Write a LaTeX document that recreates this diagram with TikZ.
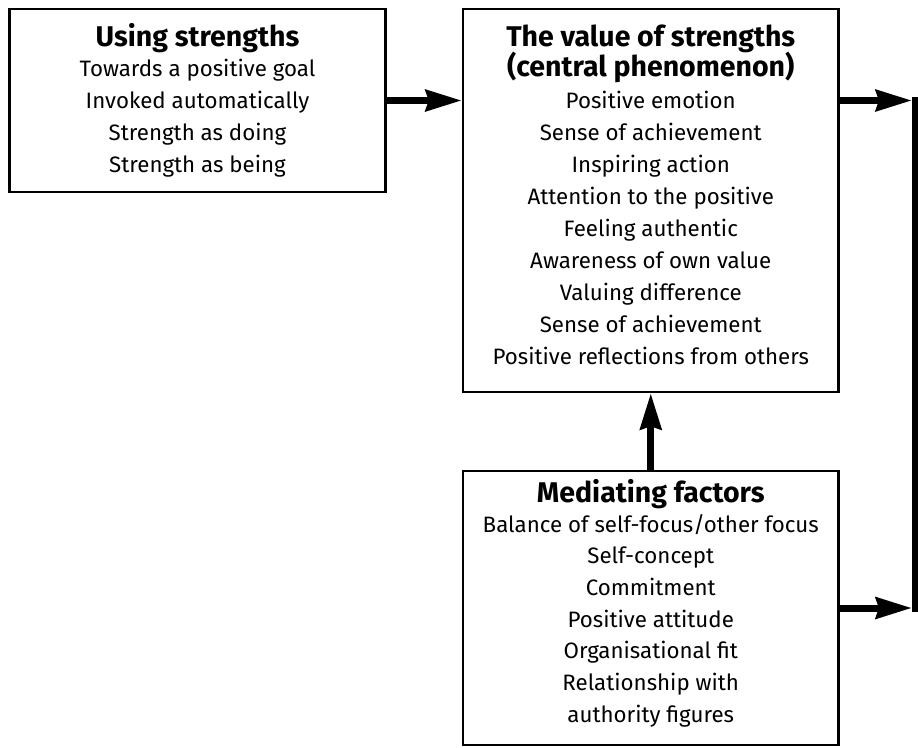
\documentclass[tikz,border=0pt]{standalone}
\usepackage{fontspec}
\setmainfont{Fira Sans}
\usetikzlibrary{arrows.meta}
\begin{document}
\begin{tikzpicture}[x=1pt,y=-1pt,
  box/.style={draw, line width=2.4pt, inner sep=0pt},
  ttl/.style={anchor=base, inner sep=0pt, font=\fontsize{28.5}{30}\selectfont\bfseries},
  itm/.style={anchor=base, inner sep=0pt, font=\fontsize{22.3}{32}\selectfont},
  flow/.style={line width=7pt, -{Stealth[length=36pt,width=21pt,inset=3pt]}}
]
\useasboundingbox (0,0) rectangle (918,747);
% boxes
\node[box, minimum width=376pt, minimum height=183pt] (use) at (197.5,100.5) {};
\node[box, minimum width=375.5pt, minimum height=383pt] (val) at (650.75,200.5) {};
\node[box, minimum width=375.5pt, minimum height=274pt] (med) at (650.75,608) {};
% texts
\node[ttl] (uT) at (197.5,46) {Using strengths};
\foreach \t [count=\i] in {Towards a positive goal, Invoked automatically, Strength as doing, Strength as being}
  \node[itm] (u\i) at (197.5,{76+32*(\i-1)}) {\t};
\node[ttl] (vT1) at (650.75,46) {The value of strengths};
\node[ttl] (vT2) at (650.75,76) {(central phenomenon)};
\foreach \t [count=\i] in {Positive emotion, Sense of achievement, Inspiring action, Attention to the positive, Feeling authentic, Awareness of own value, Valuing difference, Sense of achievement, Positive reflections from others}
  \node[itm] (v\i) at (650.75,{108+32*(\i-1)}) {\t};
\node[ttl] (mT) at (650.75,502) {Mediating factors};
\foreach \t [count=\i] in {Balance of self-focus/other focus, Self-concept, Commitment, Positive attitude, Organisational fit, Relationship with, authority figures}
  \node[itm] (m\i) at (650.75,{532+31.7*(\i-1)}) {\t};
% connectors
\coordinate (c1) at (912,100.5);
\coordinate (c2) at (912,608);
\draw[flow] (use.east) -- (use.east -| val.west);
\draw[flow] (use.east -| val.east) -- (c1);
\draw[flow] (med.east) -- (c2);
\draw[flow] (med.north) -- (val.south);
\draw[line width=7pt, line cap=rect] ([xshift=3.5pt]c1) -- ([xshift=3.5pt]c2);
\end{tikzpicture}
\end{document}
